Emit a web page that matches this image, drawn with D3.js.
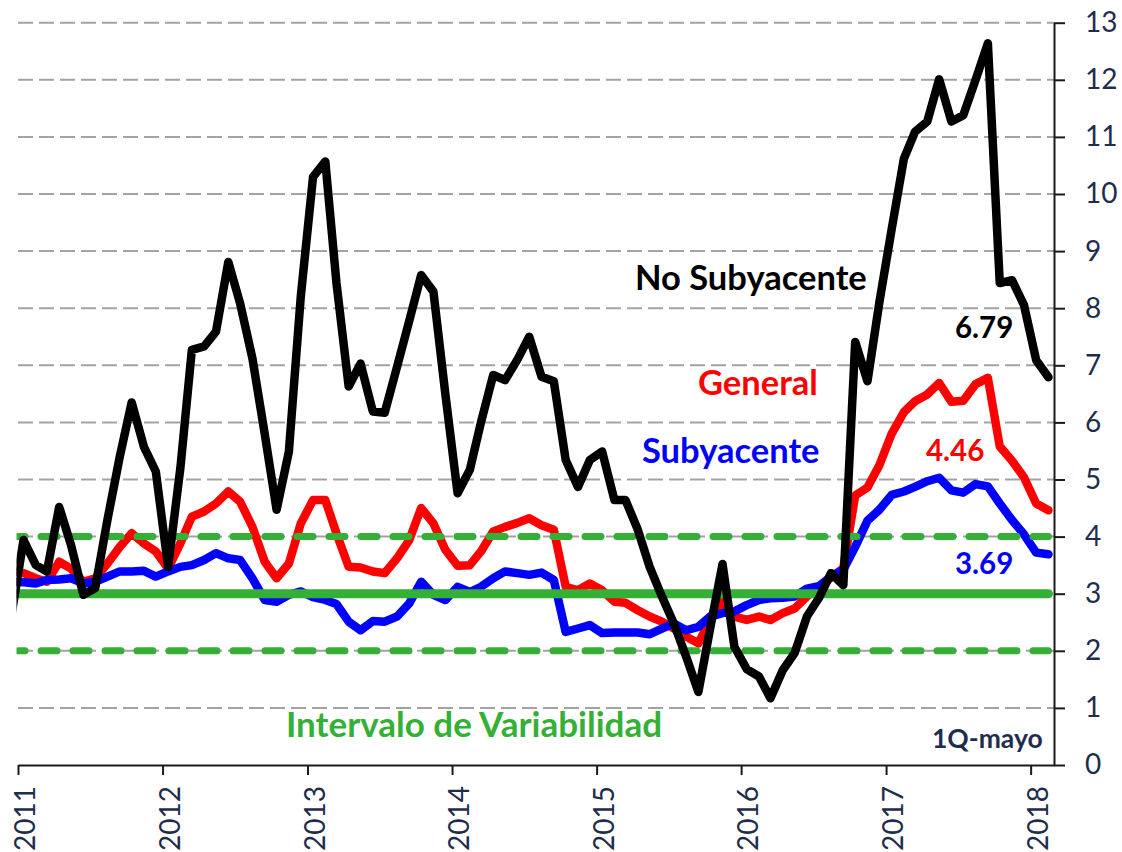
<!DOCTYPE html>
<html>
<head>
<meta charset="utf-8">
<script src="https://cdn.jsdelivr.net/npm/d3@7"></script>
<style>
  html, body { margin: 0; padding: 0; background: #fff; }
  svg { display: block; font-family: Lato, "Open Sans", sans-serif; }
</style>
</head>
<body>
<div id="chart"></div>
<script>
// monthly series, first value = Dec 2010 (mostly hidden at the left edge)
const START_YEAR = 2010, START_MONTH = 11;

const noSubyacente = [2.6,
  3.94, 3.50, 3.39, 4.52, 3.85, 2.98, 3.10, 4.30, 5.40, 6.35, 5.57, 5.14,
  3.47, 5.20, 7.27, 7.33, 7.59, 8.81, 8.08, 7.12, 5.80, 4.47, 5.49, 8.20,
  10.30, 10.57, 8.45, 6.63, 7.03, 6.19, 6.17, 6.97, 7.78, 8.58, 8.29, 6.50,
  4.76, 5.17, 6.00, 6.83, 6.74, 7.10, 7.50, 6.80, 6.72, 5.34, 4.87, 5.34,
  5.49, 4.64, 4.64, 4.12, 3.47, 2.95, 2.48, 1.90, 1.28, 2.40, 3.52, 2.07,
  1.68, 1.55, 1.17, 1.66, 1.96, 2.60, 2.92, 3.36, 3.15, 7.41, 6.72, 8.10,
  9.38, 10.62, 11.09, 11.27, 12.01, 11.27, 11.38, 12.00, 12.64, 8.44, 8.49, 8.06,
  7.09, 6.79];

const general = [3.40,
  3.36, 3.27, 3.21, 3.56, 3.44, 3.21, 3.27, 3.53, 3.82, 4.06, 3.88, 3.74,
  3.44, 3.88, 4.35, 4.44, 4.58, 4.79, 4.61, 4.17, 3.56, 3.27, 3.53, 4.23,
  4.64, 4.64, 4.06, 3.47, 3.46, 3.39, 3.36, 3.62, 3.94, 4.50, 4.23, 3.77,
  3.49, 3.50, 3.74, 4.09, 4.17, 4.24, 4.32, 4.20, 4.12, 3.12, 3.06, 3.18,
  3.06, 2.86, 2.84, 2.71, 2.60, 2.51, 2.39, 2.25, 2.13, 2.54, 2.87, 2.60,
  2.54, 2.60, 2.54, 2.66, 2.74, 2.95, 3.12, 3.28, 3.45, 4.72, 4.86, 5.25,
  5.80, 6.18, 6.37, 6.49, 6.69, 6.36, 6.38, 6.67, 6.78, 5.58, 5.33, 5.04,
  4.58, 4.46];

const subyacente = [3.21,
  3.20, 3.18, 3.24, 3.25, 3.27, 3.18, 3.21, 3.30, 3.39, 3.39, 3.40, 3.30,
  3.39, 3.47, 3.50, 3.59, 3.71, 3.62, 3.59, 3.27, 2.89, 2.86, 2.98, 3.04,
  2.94, 2.89, 2.82, 2.51, 2.36, 2.52, 2.51, 2.60, 2.83, 3.21, 2.98, 2.89,
  3.12, 3.03, 3.12, 3.27, 3.39, 3.36, 3.33, 3.37, 3.24, 2.33, 2.39, 2.45,
  2.31, 2.32, 2.32, 2.32, 2.29, 2.39, 2.48, 2.36, 2.42, 2.60, 2.66, 2.69,
  2.80, 2.89, 2.92, 2.93, 2.95, 3.09, 3.13, 3.30, 3.42, 3.82, 4.28, 4.47,
  4.73, 4.79, 4.87, 4.97, 5.03, 4.81, 4.77, 4.92, 4.88, 4.58, 4.29, 4.04,
  3.72, 3.69];

const yTicks = [0, 1, 2, 3, 4, 5, 6, 7, 8, 9, 10, 11, 12, 13];
const targetLine = 3;
const bandLines = [2, 4];

const lastLabels = [
  { text: "6.79", color: "#000000", value: 6.79 },
  { text: "4.46", color: "#ff0000", value: 4.46 },
  { text: "3.69", color: "#0000ff", value: 3.69 }
];

const W = 1122, H = 852;
const plotLeft = 18, plotRight = 1054, plotTop = 22.7, plotBottom = 765;
const GREEN = "#33b035", NAVY = "#1f2d4d";

const dates = noSubyacente.map((_, i) => new Date(START_YEAR, START_MONTH + i, 15));

const x = d3.scaleTime()
  .domain([new Date(2011, 0, 1), new Date(2018, 2, 1)])
  .range([plotLeft, plotRight]);

const y = d3.scaleLinear().domain([0, 13]).range([plotBottom, plotTop]);

const svg = d3.select("#chart").append("svg")
  .attr("width", W)
  .attr("height", H);

svg.append("defs").append("clipPath")
  .attr("id", "plot-clip")
  .append("rect")
  .attr("x", plotLeft - 1.5)
  .attr("y", 0)
  .attr("width", plotRight - plotLeft + 1.5)
  .attr("height", plotBottom);

// gray dashed gridlines
svg.append("g")
  .selectAll("line")
  .data(yTicks.filter(d => d > 0 && d !== targetLine))
  .join("line")
  .attr("x1", plotLeft)
  .attr("x2", plotRight)
  .attr("y1", d => y(d))
  .attr("y2", d => y(d))
  .attr("stroke", "#a3a3a3")
  .attr("stroke-width", 2)
  .attr("stroke-dasharray", "15 6");

const plot = svg.append("g").attr("clip-path", "url(#plot-clip)");

const line = d3.line()
  .x((d, i) => x(dates[i]))
  .y(d => y(d));

function drawSeries(values, color) {
  plot.append("path")
    .datum(values)
    .attr("d", line)
    .attr("fill", "none")
    .attr("stroke", color)
    .attr("stroke-width", 8.5)
    .attr("stroke-linejoin", "round")
    .attr("stroke-linecap", "round");
}

drawSeries(general, "#ff0000");
drawSeries(subyacente, "#0000ff");

// target and variability band
const x0 = x(dates[0]), x1 = x(dates[dates.length - 1]);

plot.append("line")
  .attr("x1", x0).attr("x2", x1)
  .attr("y1", y(targetLine)).attr("y2", y(targetLine))
  .attr("stroke", GREEN)
  .attr("stroke-width", 9)
  .attr("stroke-linecap", "round");

plot.selectAll(".band")
  .data(bandLines)
  .join("line")
  .attr("class", "band")
  .attr("x1", plotLeft).attr("x2", x1)
  .attr("y1", d => y(d)).attr("y2", d => y(d))
  .attr("stroke", GREEN)
  .attr("stroke-width", 7)
  .attr("stroke-linecap", "round")
  .attr("stroke-dasharray", "16 16")
  .attr("stroke-dashoffset", 9);

drawSeries(noSubyacente, "#000000");

// axes
const yAxis = svg.append("g")
  .attr("transform", `translate(${plotRight},0)`)
  .call(d3.axisRight(y).tickValues(yTicks).tickSize(11).tickSizeOuter(0).tickPadding(20));

const xAxis = svg.append("g")
  .attr("transform", `translate(0,${plotBottom})`)
  .call(d3.axisBottom(x).ticks(d3.timeYear.every(1)).tickFormat(d3.timeFormat("%Y"))
    .tickSize(10).tickSizeOuter(0));

[yAxis, xAxis].forEach(g => {
  g.select(".domain").attr("stroke", "#1a1a1a").attr("stroke-width", 2);
  g.selectAll(".tick line").attr("stroke", "#1a1a1a").attr("stroke-width", 2);
  g.selectAll(".tick text")
    .attr("fill", NAVY)
    .attr("font-size", 28)
    .attr("font-family", "Lato, 'Open Sans', sans-serif");
});

xAxis.selectAll(".tick text")
  .attr("transform", "rotate(-90)")
  .attr("text-anchor", "end")
  .attr("x", -21)
  .attr("y", 7)
  .attr("dy", "0.35em");

// labels
const labels = svg.append("g").attr("font-weight", 700);

labels.append("text").attr("x", 635).attr("y", 290)
  .attr("font-size", 34.5).attr("fill", "#000").text("No Subyacente");
labels.append("text").attr("x", 698).attr("y", 395)
  .attr("font-size", 34.5).attr("fill", "#ff0000").text("General");
labels.append("text").attr("x", 642).attr("y", 463)
  .attr("font-size", 34.5).attr("fill", "#0000ff").text("Subyacente");
labels.append("text").attr("x", 286).attr("y", 737)
  .attr("font-size", 35).attr("fill", GREEN).text("Intervalo de Variabilidad");

const valuePos = [[955, 338], [926, 461], [955, 574]];
labels.selectAll(".last")
  .data(lastLabels)
  .join("text")
  .attr("class", "last")
  .attr("x", (d, i) => valuePos[i][0])
  .attr("y", (d, i) => valuePos[i][1])
  .attr("font-size", 29.5)
  .attr("fill", d => d.color)
  .text(d => d.text);

labels.append("text").attr("x", 932).attr("y", 748)
  .attr("font-size", 26.5).attr("fill", NAVY).text("1Q-mayo");
</script>
</body>
</html>
